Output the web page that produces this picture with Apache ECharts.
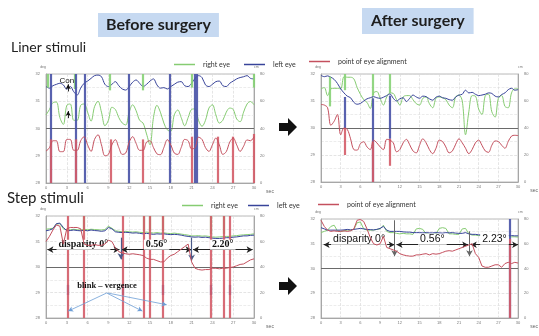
<!DOCTYPE html>
<html><head><meta charset="utf-8">
<script src="https://cdn.jsdelivr.net/npm/echarts@6/dist/echarts.min.js"></script>
<style>html,body{margin:0;padding:0;background:#fff}#c{width:539px;height:336px}</style>
</head><body><div id="c"></div>
<script>
// ---------- data ----------
const secs = [0,0.5,1,1.5,2,2.5,3,3.5,4,4.5,5,5.5,6,6.5,7,7.5,8,8.5,9,9.5,10,10.5,11,11.5,12,12.5,13,13.5,14,14.5,15,15.5,16,16.5,17,17.5,18,18.5,19,19.5,20,20.5,21,21.5,22,22.5,23,23.5,24,24.5,25,25.5,26,26.5,27,27.5,28,28.5,29,29.5,30];
const xTicks = [0,3,6,9,12,15,18,21,24,27,30];
const seriesNames = ['right eye','left eye','point of eye alignment'];

// Liner stimuli, before surgery
const beforeLinerRight = [30.5,30.7,30.95,30.97,30.4,30.15,30.85,30.9,30.3,30.3,30.85,30.9,30.6,30.27,30.8,31.0,30.6,30.1,30.3,30.78,30.7,30.4,30.2,30.13,30.6,30.87,30.65,30.3,30.2,29.8,29.4,30.4,30.85,30.6,30.2,29.95,29.9,30.5,30.68,30.4,30.1,30.4,30.7,30.72,30.3,30.08,30.3,30.75,30.87,30.5,30.2,30.3,30.6,30.75,30.7,30.35,30.25,30.6,30.9,30.99,30.87];
const beforeLinerLeft = [31.54,31.48,31.57,31.62,31.66,31.6,31.44,31.54,31.35,31.23,31.48,31.66,31.74,31.84,31.94,31.96,31.9,31.62,31.54,31.62,31.72,31.57,31.45,31.41,31.54,31.7,31.78,31.66,31.54,31.62,31.74,31.82,31.6,31.48,31.5,31.45,31.54,31.62,31.7,31.72,31.57,31.54,31.66,31.84,31.94,31.87,31.6,31.54,31.62,31.72,31.74,31.57,31.54,31.66,31.74,31.82,31.87,31.9,31.94,31.84,31.82];
const beforeLinerAlign = [29.16,29.3,29.55,29.55,29.15,29.15,29.6,29.6,29.2,29.2,29.55,29.7,29.4,29.16,29.6,29.77,29.4,29.0,29.05,29.4,29.59,29.3,29.05,29.1,29.5,29.7,29.45,29.2,29.2,29.5,29.55,29.3,29.07,29.04,29.3,29.59,29.4,29.1,29.05,29.3,29.6,29.55,29.25,29.3,29.68,29.6,29.3,29.16,29.4,29.65,29.4,29.05,29.15,29.5,29.65,29.4,29.16,29.35,29.58,29.55,29.7];
// blink traces: [sec, from, to]
const beforeLinerRightBlinks = [[0.3,32,31.5],[4.2,32,31.45],[9.2,32,31.4],[14.0,32,31.4],[21.0,32,31.5],[29.9,32,31.5]];
const beforeLinerLeftBlinks = [[0.7,32,28],[4.3,32,28],[5.6,32,28],[11.9,32,28],[17.8,32,28],[21.4,32,28],[21.8,32,28]];
const beforeLinerAlignBlinks = [[0.7,29.6,28],[4.3,29.6,28],[9.3,29.6,28],[14.0,29.6,28],[21.0,29.7,28],[24.8,29.7,28],[27.0,29.7,28],[29.9,29.8,28]];

// Liner stimuli, after surgery
const afterLinerRight = [31.45,31.5,31.2,31.45,31.47,31.47,31.45,31.9,31.88,31.88,31.82,31.5,31.25,31.05,30.95,30.72,31.3,31.35,31.1,30.85,31.15,31.3,31.28,31.05,30.85,31.15,31.2,31.2,31.05,30.9,30.85,31.1,31.15,30.9,30.75,31.1,31.15,31.12,31.05,30.85,30.75,31.15,31.22,31.0,29.75,30.6,31.2,31.18,30.7,30.5,31.2,31.25,30.6,30.4,31.1,31.2,30.8,30.75,31.3,31.45,31.45];
const afterLinerLeft = [31.95,31.9,31.93,31.88,31.8,31.65,31.45,31.3,31.18,31.12,30.95,30.88,30.91,31.0,31.08,31.12,31.16,31.12,31.1,31.14,31.2,31.26,31.1,31.0,31.08,31.12,30.98,31.1,31.22,31.15,31.1,31.18,31.16,31.08,31.03,31.14,31.18,31.12,31.1,31.05,31.03,31.15,31.22,31.25,31.4,31.3,31.32,31.25,31.2,31.22,31.25,31.3,31.28,31.18,31.15,31.24,31.3,31.42,31.47,31.4,31.42];
const afterLinerAlign = [30.87,30.85,30.75,30.1,30.25,30.5,29.75,30.0,29.95,29.6,29.2,29.18,29.42,29.49,29.3,29.2,29.55,29.45,29.3,29.2,29.58,29.55,29.45,29.12,29.2,29.45,29.58,29.38,29.15,29.08,29.36,29.6,29.45,29.2,29.05,29.25,29.55,29.5,29.3,29.08,29.15,29.4,29.6,29.45,29.25,29.05,29.2,29.45,29.55,29.36,29.15,29.1,29.36,29.52,29.5,29.36,29.25,29.5,29.7,29.73,29.72];
const afterLinerRightBlinks = [[1.3,31.9,30.8],[3.6,32,31.4],[7.95,32,31.2],[10.5,32,31.3]];
const afterLinerLeftBlinks = [[3.6,31.15,30.0],[7.95,31.1,28],[10.5,31.2,29.6]];
const afterLinerAlignBlinks = [[3.6,30.0,29.0],[7.95,29.5,28],[10.5,29.6,28.6]];

// Step stimuli, before surgery
const beforeStepRight = [31.48,31.5,31.52,31.68,31.7,31.5,31.45,31.46,31.48,31.46,31.45,31.48,31.46,31.48,31.47,31.46,31.45,31.47,31.6,31.52,31.42,31.4,31.38,31.4,31.38,31.37,31.38,31.36,31.35,31.37,31.35,31.33,31.35,31.33,31.34,31.32,31.31,31.33,31.31,31.29,31.27,31.25,31.22,31.22,31.23,31.21,31.22,31.2,31.18,31.17,31.18,31.19,31.2,31.2,31.22,31.23,31.25,31.26,31.27,31.28,31.3];
const beforeStepLeft = [31.42,31.45,31.5,31.7,31.72,31.55,31.42,31.43,31.45,31.43,31.42,31.44,31.42,31.45,31.43,31.42,31.4,31.42,31.55,31.5,31.38,31.36,31.35,31.36,31.35,31.33,31.34,31.32,31.3,31.32,31.3,31.28,31.3,31.29,31.3,31.28,31.27,31.28,31.27,31.25,31.22,31.2,31.18,31.17,31.18,31.16,31.17,31.15,31.13,31.12,31.12,31.13,31.15,31.15,31.17,31.18,31.2,31.22,31.22,31.24,31.25];
const beforeStepAlign = [31.0,31.2,31.45,31.65,31.6,30.9,31.5,31.55,31.55,31.55,31.5,30.9,30.85,30.85,30.88,30.85,30.85,30.9,31.05,31.0,30.75,30.6,30.55,30.52,30.5,30.52,30.5,30.48,30.45,30.35,30.3,30.3,30.25,30.2,30.2,30.35,30.45,30.5,30.6,30.7,30.8,30.9,30.2,29.95,29.9,29.88,29.9,29.9,29.95,29.95,29.93,29.95,29.95,29.98,30.0,30.05,30.1,30.12,30.2,30.28,30.32];
const beforeStepRightBlinks = [[5.4,32,31.4],[14.1,32,31.4],[15.0,32,31.4],[16.9,32,31.4],[23.7,32,31.3],[25.7,32,31.3]];
const beforeStepLeftBlinks = [[3.2,29.3,28.9],[11.1,29.3,28.9],[16.9,29.3,28.9],[23.7,29.3,28.9],[26.5,29.3,28.9]];
const beforeStepAlignBlinks = [[3.2,32,28],[5.4,32,28],[11.1,32,28],[14.1,32,28],[15.0,32,28],[16.9,32,28],[23.7,32,28],[25.7,32,28],[26.5,32,28]];

// Step stimuli, after surgery
const afterStepRight = [31.45,31.5,31.55,31.7,31.75,31.52,31.5,31.52,31.55,31.55,31.58,31.85,31.88,31.6,31.55,31.55,31.55,31.58,31.6,31.75,31.5,31.45,31.45,31.42,31.4,31.42,31.4,31.4,31.38,31.6,31.62,31.58,31.4,31.38,31.38,31.4,31.62,31.65,31.62,31.4,31.4,31.38,31.38,31.6,31.62,31.4,31.35,31.35,31.33,31.33,31.32,31.33,31.32,31.3,31.3,31.3,31.3,31.32,31.28,31.28,31.27];
const afterStepLeft = [31.65,31.6,31.55,31.55,31.55,31.55,31.55,31.56,31.58,31.56,31.58,31.6,31.62,31.6,31.58,31.57,31.56,31.58,31.62,31.7,31.55,31.5,31.5,31.5,31.5,31.48,31.47,31.47,31.45,31.45,31.45,31.44,31.45,31.44,31.44,31.45,31.44,31.43,31.45,31.44,31.45,31.43,31.42,31.42,31.45,31.4,31.38,31.38,31.36,31.36,31.35,31.35,31.36,31.35,31.34,31.33,31.34,31.34,31.33,31.32,31.32];
const afterStepAlign = [31.95,31.7,31.55,31.5,31.52,31.5,31.5,31.52,31.5,31.52,31.6,31.95,31.98,31.9,31.6,31.25,31.0,30.95,31.0,31.3,30.85,30.8,30.75,30.7,30.6,30.55,30.52,30.5,30.5,30.55,30.55,30.58,30.6,30.55,30.6,30.58,30.6,30.65,30.7,30.72,30.7,30.75,30.8,30.85,30.9,30.95,31.0,30.6,30.45,30.1,30.05,30.05,30.1,30.15,30.15,30.05,30.2,30.25,30.2,30.25,30.22];
const afterStepRightBlinks = [];
const afterStepLeftBlinks = [[28.7,32,28]];
const afterStepAlignBlinks = [[28.75,31.2,28]];

// annotations: [fromSec, fromVal, toSec, toVal, text]
const beforeStepSpans = [[0.2,30.68,10.6,30.68,'disparity 0°'],[10.9,30.68,21.0,30.68,'0.56°'],[21.2,30.68,29.8,30.68,'2.20°']];
const afterStepSpans = [[0.4,30.96,11.2,30.96,'disparity 0°'],[11.5,30.96,22.4,30.96,'0.56°'],[22.8,30.96,30.0,30.96,'2.23°']];
const beforeStepDrops = [[10.8,31.15,30.3],[21.0,31.15,30.25]];
const afterStepDrops = [[11.2,31.95,30.5],[22.6,31.5,30.5]];
const blinkVergenceLabel = [8.8,29.26,'blink – vergence'];
const blinkVergenceArrows = [[8.75,28.98,3.2,28.27],[8.75,28.98,13.9,28.27],[8.9,28.98,17.4,28.52]];
const conLabel = [3.0,31.74,'Con'];
const conArrows = [[3.2,31.36,3.2,31.62],[3.2,30.38,3.2,30.64]];

// ---------- chart ----------
const colors = {right:'#86cc72', left:'#38449a', align:'#c4505e'};
const blinkColors = {right:'#86d276', left:'#4751a6', align:'#d45c68'};
const grids = [
  {left:46, top:74, width:208, height:109},
  {left:321, top:74, width:205, height:108},
  {left:46, top:216, width:208, height:108},
  {left:321, top:219, width:205, height:105}
];
const panels = [
  {right:beforeLinerRight, left:beforeLinerLeft, align:beforeLinerAlign, rb:beforeLinerRightBlinks, lb:beforeLinerLeftBlinks, ab:beforeLinerAlignBlinks, smooth:0.35},
  {right:afterLinerRight, left:afterLinerLeft, align:afterLinerAlign, rb:afterLinerRightBlinks, lb:afterLinerLeftBlinks, ab:afterLinerAlignBlinks, smooth:0.35},
  {right:beforeStepRight, left:beforeStepLeft, align:beforeStepAlign, rb:beforeStepRightBlinks, lb:beforeStepLeftBlinks, ab:beforeStepAlignBlinks, smooth:false},
  {right:afterStepRight, left:afterStepLeft, align:afterStepAlign, rb:afterStepRightBlinks, lb:afterStepLeftBlinks, ab:afterStepAlignBlinks, smooth:false}
];
const tickFont = {fontSize:4, color:'#777', fontFamily:'Liberation Sans'};
const xAxes = [], yAxes = [], series = [];
grids.forEach((g, i) => {
  g.show = true; g.borderColor = '#aaa'; g.borderWidth = 0.8; g.backgroundColor = '#fff';
  xAxes.push({type:'value', gridIndex:i, min:0, max:30, interval:3,
    axisLine:{show:true, lineStyle:{color:'#999', width:0.8}}, axisTick:{show:false},
    axisLabel:Object.assign({margin:3, formatter:v => xTicks.includes(v) ? String(v) : ''}, tickFont),
    splitLine:{show:true, lineStyle:{color:'#dadada', type:'dashed', width:0.7}},
    name:'sec', nameLocation:'end', nameGap:8,
    nameTextStyle:{fontSize:5, color:'#666', verticalAlign:'top', lineHeight:18, fontFamily:'Liberation Sans'}});
  yAxes.push({type:'value', gridIndex:i, min:28, max:32, interval:1, position:'left',
    axisLine:{show:true, lineStyle:{color:'#999', width:0.8}}, axisTick:{show:false},
    axisLabel:Object.assign({margin:6}, tickFont),
    splitLine:{show:true, lineStyle:{color:'#d8d8d8', type:'dashed', width:0.7}},
    minorTick:{show:false, splitNumber:2},
    minorSplitLine:{show:true, lineStyle:{color:'#e4e4e4', type:'dashed', width:0.7}},
    name:'deg', nameGap:5, nameTextStyle:{fontSize:3.5, color:'#777', align:'right'}});
  yAxes.push({type:'value', gridIndex:i, min:0, max:80, interval:20, position:'right',
    axisLine:{show:true, lineStyle:{color:'#999', width:0.8}}, axisTick:{show:false},
    axisLabel:Object.assign({margin:6}, tickFont), splitLine:{show:false},
    name:'cm', nameGap:5, nameTextStyle:{fontSize:3.5, color:'#777', align:'left'}});
  const p = panels[i];
  const mk = (arr, color) => ({silent:true, symbol:['none','none'], animation:false, label:{show:false},
    lineStyle:{color:color, width:2.2, type:'solid', opacity:0.9},
    data:arr.map(s => [{coord:[s[0], s[1]]}, {coord:[s[0], s[2]]}])});
  // reference line at 30 deg
  series.push({type:'line', name:'ref'+i, xAxisIndex:i, yAxisIndex:2*i, data:[], z:1, silent:true,
    markLine:{silent:true, symbol:['none','none'], animation:false, label:{show:false},
      lineStyle:{color:'#6a6a6a', width:1, type:'solid'}, data:[{yAxis:30}]}});
  [['right', 'rb'], ['left', 'lb'], ['align', 'ab']].forEach(([k, bk], j) => {
    series.push({type:'line', name:seriesNames[j], xAxisIndex:i, yAxisIndex:2*i,
      data:secs.map((t, n) => [t, p[k][n]]), showSymbol:false, symbol:'none', smooth:p.smooth,
      lineStyle:{color:colors[k], width:1}, itemStyle:{color:colors[k]}, z:3+j, animation:false,
      markLine:mk(p[bk], blinkColors[k])});
  });
});

// annotations
function spanMarks(spans, fontSize, fontFamily, fontWeight) {
  return spans.map(s => [
    {coord:[s[0], s[1]], label:{show:true, position:'middle', formatter:s[4], fontSize:fontSize, fontWeight:fontWeight,
      fontFamily:fontFamily, color:'#111', backgroundColor:'#fff', padding:[0,2], distance:0}},
    {coord:[s[2], s[3]]}]);
}
function dropMarks(drops) { return drops.map(d => [{coord:[d[0], d[1]]}, {coord:[d[0], d[2]]}]); }
function arrowMarks(arr) { return arr.map(a => [{coord:[a[0], a[1]]}, {coord:[a[2], a[3]]}]); }

series.push({type:'line', name:'annoBS', xAxisIndex:2, yAxisIndex:4, data:[], z:10, silent:true,
  markLine:{silent:true, animation:false, symbol:['arrow','arrow'], symbolSize:[5,6],
    lineStyle:{color:'#222', width:1, type:'solid'}, data:spanMarks(beforeStepSpans, 10, 'Liberation Serif', 'bold')}});
series.push({type:'line', name:'annoBS2', xAxisIndex:2, yAxisIndex:4, data:[], z:10, silent:true,
  markLine:{silent:true, animation:false, symbol:['none','arrow'], symbolSize:[5,6], label:{show:false},
    lineStyle:{color:'#4a5a88', width:1.2, type:'solid'}, data:dropMarks(beforeStepDrops)},
  markPoint:{silent:true, animation:false, symbol:'circle', symbolSize:0,
    label:{show:true, position:'inside', fontSize:8.5, fontWeight:'bold', fontFamily:'Liberation Serif', color:'#111',
      formatter:blinkVergenceLabel[2]},
    data:[{coord:[blinkVergenceLabel[0], blinkVergenceLabel[1]]}]}});
series.push({type:'line', name:'annoBS3', xAxisIndex:2, yAxisIndex:4, data:[], z:10, silent:true,
  markLine:{silent:true, animation:false, symbol:['none','arrow'], symbolSize:[4,5], label:{show:false},
    lineStyle:{color:'#6d9ed6', width:0.8, type:'solid'}, data:arrowMarks(blinkVergenceArrows)}});
series.push({type:'line', name:'annoAS', xAxisIndex:3, yAxisIndex:6, data:[], z:10, silent:true,
  markLine:{silent:true, animation:false, symbol:['arrow','arrow'], symbolSize:[5,6],
    lineStyle:{color:'#222', width:1, type:'solid'}, data:spanMarks(afterStepSpans, 10.5, 'Liberation Sans', 'normal')}});
series.push({type:'line', name:'annoAS2', xAxisIndex:3, yAxisIndex:6, data:[], z:10, silent:true,
  markLine:{silent:true, animation:false, symbol:['none','arrow'], symbolSize:[5,6], label:{show:false},
    lineStyle:{color:'#666', width:1, type:'solid'}, data:dropMarks(afterStepDrops)}});
series.push({type:'line', name:'annoBL', xAxisIndex:0, yAxisIndex:0, data:[], z:10, silent:true,
  markLine:{silent:true, animation:false, symbol:['none','arrow'], symbolSize:[4,5], label:{show:false},
    lineStyle:{color:'#111', width:0.9, type:'solid'}, data:arrowMarks(conArrows)},
  markPoint:{silent:true, animation:false, symbol:'circle', symbolSize:0,
    label:{show:true, position:'inside', fontSize:8, fontFamily:'Liberation Sans', color:'#111', formatter:conLabel[2]},
    data:[{coord:[conLabel[0], conLabel[1]]}]}});

const legendBase = {icon:'rect', itemWidth:21, itemHeight:1.5, selectedMode:false,
  textStyle:{fontSize:7, color:'#333', fontFamily:'Lato', padding:[0,0,0,3]}};
const legends = [
  [seriesNames[0], 169, 56], [seriesNames[1], 239, 56], [seriesNames[2], 304, 53],
  [seriesNames[0], 177, 197], [seriesNames[1], 243, 197], [seriesNames[2], 313, 196]
].map(([n, l, t]) => Object.assign({}, legendBase, {data:[n], left:l, top:t}));

function blockArrow(cx, cy) {
  return {type:'polygon', shape:{points:[[cx-9,cy-4],[cx,cy-4],[cx,cy-9],[cx+9,cy],[cx,cy+9],[cx,cy+4],[cx-9,cy+4]]},
    style:{fill:'#111'}};
}

const chart = echarts.init(document.getElementById('c'), null, {renderer:'canvas'});
chart.setOption({
  animation:false,
  backgroundColor:'#fff',
  title:[
    {text:'Before surgery', left:98, top:13, backgroundColor:'#c6d9f1', padding:[4,8,4,8],
      textStyle:{fontFamily:'Lato', fontWeight:'bold', fontSize:16, color:'#1e1e1e'}},
    {text:'After surgery', left:362, top:8, backgroundColor:'#c6d9f1', padding:[5,9,5,9],
      textStyle:{fontFamily:'Lato', fontWeight:'bold', fontSize:16, color:'#1e1e1e'}},
    {text:'Liner stimuli', left:11, top:40, padding:0,
      textStyle:{fontFamily:'Lato', fontWeight:'normal', fontSize:14, color:'#222'}},
    {text:'Step stimuli', left:7, top:191, padding:0,
      textStyle:{fontFamily:'Lato', fontWeight:'normal', fontSize:15, color:'#222'}}
  ],
  legend:legends,
  grid:grids, xAxis:xAxes, yAxis:yAxes, series:series,
  graphic:[blockArrow(288,127), blockArrow(288,286)]
});
</script>
</body></html>
